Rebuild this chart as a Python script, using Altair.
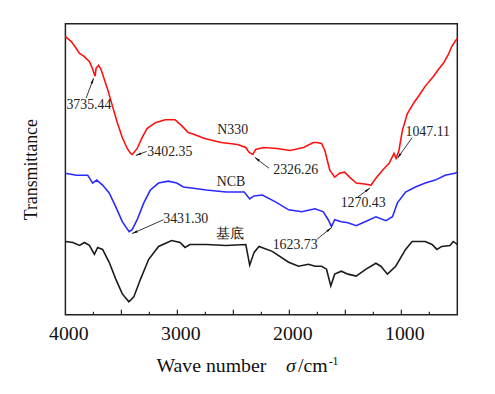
import math
import pandas as pd
import altair as alt

# ---------------- data ----------------
red_wn = [4000, 3947, 3903, 3874, 3845, 3815, 3786, 3756, 3735, 3726, 3704, 3682, 3653, 3624, 3580,
          3536, 3492, 3448, 3418, 3402, 3359, 3315, 3271, 3197, 3109, 3021, 2962, 2903, 2874, 2756,
          2609, 2462, 2389, 2359, 2326, 2301, 2227, 2109, 1992, 1874, 1785, 1756, 1712, 1683, 1639,
          1595, 1551, 1507, 1462, 1403, 1330, 1270, 1227, 1168, 1109, 1065, 1047, 1021, 991, 947,
          889, 845, 786, 712, 668, 624, 580, 550, 521, 500]
red_T = [281, 276, 269, 264, 262, 259, 256, 248, 241, 249, 252, 248, 238, 228, 211,
         194, 179, 168, 163, 162, 168, 179, 188, 194, 197, 197, 191, 184, 183, 178,
         174, 172, 169, 164, 162, 167, 169, 168, 166, 169, 174, 174, 173, 166, 146,
         139, 143, 144, 139, 133, 132, 131, 138, 146, 153, 163, 158, 166, 186, 203,
         214, 221, 231, 241, 248, 254, 263, 271, 276, 279]

blue_wn = [4000, 3903, 3801, 3756, 3721, 3668, 3609, 3550, 3492, 3431, 3404, 3359, 3300, 3241, 3168,
           3080, 3006, 2947, 2874, 2742, 2565, 2403, 2354, 2315, 2241, 2124, 2006, 1889, 1771, 1697,
           1653, 1624, 1595, 1536, 1476, 1403, 1344, 1227, 1138, 1079, 1035, 962, 874, 786, 697,
           609, 521, 500]
blue_T = [143, 141, 141, 133, 136, 131, 123, 109, 94, 84, 86, 96, 113, 126, 133,
          135, 133, 129, 128, 126, 124, 124, 117, 120, 121, 114, 106, 104, 107, 104,
          96, 89, 96, 94, 93, 90, 93, 99, 95, 99, 113, 124, 129, 133, 136,
          141, 143, 144]

black_wn = [4000, 3933, 3874, 3830, 3786, 3741, 3712, 3668, 3609, 3550, 3492, 3433, 3389, 3329, 3256,
            3168, 3051, 2976, 2932, 2888, 2742, 2565, 2389, 2354, 2315, 2271, 2153, 2006, 1918, 1829,
            1771, 1712, 1668, 1630, 1595, 1536, 1476, 1403, 1315, 1227, 1183, 1124, 1050, 962, 903,
            786, 726, 682, 638, 565, 536, 500]
black_T = [74, 73, 70, 73, 70, 61, 68, 66, 53, 36, 21, 13, 18, 36, 56,
           69, 75, 73, 68, 71, 71, 70, 71, 50, 63, 69, 64, 53, 49, 51,
           49, 49, 46, 29, 41, 44, 41, 39, 46, 52, 49, 41, 49, 66, 74,
           74, 71, 66, 69, 70, 74, 71]

series_names = ["N330", "NCB", "基底"]
series_colors = ["#ff1010", "#2a2aff", "#1a1a1a"]

# annotations: text and its centre
ann_text = ["3735.44", "3402.35", "N330", "2326.26", "1270.43", "1047.11", "NCB", "3431.30", "基底", "1623.73"]
ann_wn = [3790, 3067, 2506, 1943, 1341, 764, 2521, 2925, 2528, 1948]
ann_T = [212, 164, 187, 146, 113, 185, 134, 97, 82, 70]

# arrows: tail -> tip
arr_wn0 = [3815, 3274, 2182, 1388, 903, 3124, 1756]
arr_T0 = [219, 165, 148, 119, 179, 96, 76]
arr_wn1 = [3748, 3371, 2309, 1280, 1035, 3404, 1624]
arr_T1 = [239, 161, 159, 128, 158, 82, 88]

major_ticks = [3500, 3000, 2500, 2000, 1500, 1000]
minor_ticks = [3750, 3250, 2750, 2250, 1750, 1250, 750]
tick_labels = [4000, 3000, 2000, 1000]

# ---------------- chart ----------------
W, H = 396, 294
XMIN, XMAX = 500, 4000
YMIN, YMAX = 0, 294
FONT = "Liberation Serif"

assert len(red_wn) == len(red_T) and len(blue_wn) == len(blue_T) and len(black_wn) == len(black_T)

curves = pd.concat([
    pd.DataFrame({"wn": red_wn, "T": red_T, "s": series_names[0]}),
    pd.DataFrame({"wn": blue_wn, "T": blue_T, "s": series_names[1]}),
    pd.DataFrame({"wn": black_wn, "T": black_T, "s": series_names[2]}),
], ignore_index=True)

xs = alt.Scale(domain=[XMIN, XMAX], reverse=True, nice=False, zero=False)
ys = alt.Scale(domain=[YMIN, YMAX], nice=False, zero=False)

x_enc = alt.X("wn:Q", scale=xs,
              axis=alt.Axis(values=tick_labels, ticks=False, domain=False, grid=False,
                            labelFont=FONT, labelFontSize=20, labelColor="#111",
                            labelPadding=9, labelOffset=3, labelFlush=False, title=None, format="d"))
y_enc = alt.Y("T:Q", scale=ys,
              axis=alt.Axis(labels=False, ticks=False, domain=False, grid=False,
                            title="Transmittance", titleFont=FONT, titleFontSize=18,
                            titleFontWeight="normal", titleColor="#111", titlePadding=25))

lines = alt.Chart(curves).mark_line(strokeWidth=1.6).encode(
    x=x_enc, y=y_enc,
    color=alt.Color("s:N", scale=alt.Scale(domain=series_names, range=series_colors), legend=None),
    detail="s:N",
)

ann = pd.DataFrame({"wn": ann_wn, "T": ann_T, "t": ann_text})
labels = alt.Chart(ann).mark_text(font=FONT, fontSize=14, color="#222", baseline="middle", align="center").encode(
    x=alt.X("wn:Q", scale=xs), y=alt.Y("T:Q", scale=ys), text="t:N")

arr = pd.DataFrame({"wn0": arr_wn0, "T0": arr_T0, "wn1": arr_wn1, "T1": arr_T1})
px_per_wn = W / (XMAX - XMIN)
px_per_T = H / (YMAX - YMIN)
angles = []
for a, b, c, d in zip(arr_wn0, arr_T0, arr_wn1, arr_T1):
    dx = -(c - a) * px_per_wn
    dy = -(d - b) * px_per_T
    angles.append(math.degrees(math.atan2(dx, -dy)) % 360)
arr["ang"] = angles

shafts = alt.Chart(arr).mark_rule(color="#222", strokeWidth=0.9).encode(
    x=alt.X("wn0:Q", scale=xs), y=alt.Y("T0:Q", scale=ys),
    x2="wn1:Q", y2="T1:Q")
heads = alt.Chart(arr).mark_point(shape="M0,0L0.5,2.4L-0.5,2.4Z", filled=True, color="#111",
                                  size=22, opacity=1).encode(
    x=alt.X("wn1:Q", scale=xs), y=alt.Y("T1:Q", scale=ys),
    angle=alt.Angle("ang:Q", scale=None))

maj = alt.Chart(pd.DataFrame({"wn": major_ticks})).mark_rule(color="#222", strokeWidth=1.2).encode(
    x=alt.X("wn:Q", scale=xs), y=alt.value(H), y2=alt.value(H - 5))
mnr = alt.Chart(pd.DataFrame({"wn": minor_ticks})).mark_rule(color="#222", strokeWidth=1.2).encode(
    x=alt.X("wn:Q", scale=xs), y=alt.value(H), y2=alt.value(H - 3))

dummy = alt.Data(values=[{"a": 0}])
t1 = alt.Chart(dummy).mark_text(font=FONT, fontSize=20, align="left", baseline="alphabetic", color="#111").encode(
    x=alt.value(92), y=alt.value(352), text=alt.value("Wave number"))
t2 = alt.Chart(dummy).mark_text(font=FONT, fontSize=20, fontStyle="italic", align="left", baseline="alphabetic", color="#111").encode(
    x=alt.value(223), y=alt.value(352), text=alt.value("σ"))
t3 = alt.Chart(dummy).mark_text(font=FONT, fontSize=20, align="left", baseline="alphabetic", color="#111").encode(
    x=alt.value(235), y=alt.value(352), text=alt.value("/cm"))
t4 = alt.Chart(dummy).mark_text(font=FONT, fontSize=12, align="left", baseline="alphabetic", color="#111").encode(
    x=alt.value(266), y=alt.value(345), text=alt.value("-1"))

chart = alt.layer(lines, shafts, heads, labels, maj, mnr, t1, t2, t3, t4).properties(
    width=W, height=H,
    background="white",
    autosize=alt.AutoSizeParams(type="none"),
    padding={"left": 58, "top": 14, "right": 30, "bottom": 60},
).configure_view(stroke="#222", strokeWidth=1.5)

chart.save("out.html", embed_options={"renderer": "svg", "actions": False})
